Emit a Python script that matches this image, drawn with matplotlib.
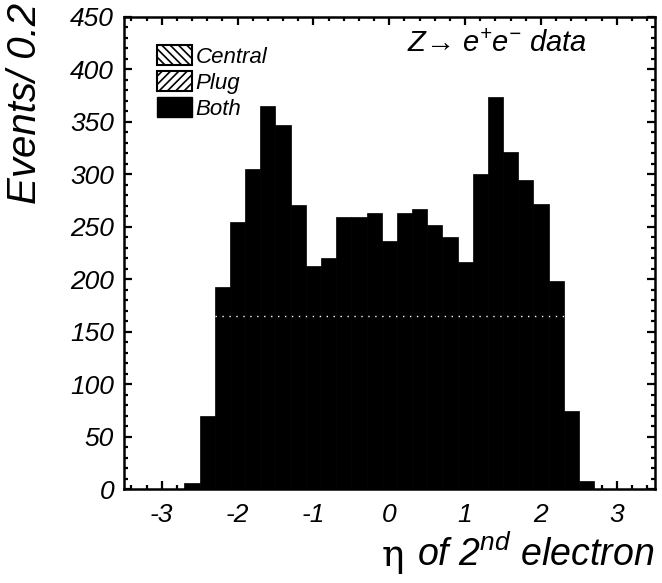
import numpy as np
import matplotlib
matplotlib.use("Agg")
import matplotlib.pyplot as plt
from matplotlib.patches import Patch
from matplotlib.ticker import MultipleLocator

# =========================
# DONNÉES
# =========================
bin_left = -2.7
bin_width = 0.2
counts = [6, 70, 193, 255, 305, 365, 347, 271, 213, 220, 259, 259, 263,
          236, 263, 267, 252, 240, 216, 300, 374, 321, 295, 272, 198, 74, 8]
# trace pointillée blanche visible sur le scan
dotted_level = 165
dotted_range = [-2.3, 2.3]

legend_labels = ["Central", "Plug", "Both"]
legend_hatches = ["\\\\\\\\", "////", None]

# =========================
# STYLE
# =========================
plt.rcParams["font.family"] = ["Liberation Sans", "DejaVu Sans"]
plt.rcParams["font.style"] = "italic"
plt.rcParams["mathtext.fontset"] = "custom"
plt.rcParams["mathtext.rm"] = "Liberation Sans"
plt.rcParams["mathtext.it"] = "Liberation Sans:italic"
plt.rcParams["hatch.linewidth"] = 1.2

fig = plt.figure(figsize=(6.62, 5.83), dpi=100)
ax = fig.add_axes([0.187, 0.161, 0.802, 0.810])

centers = bin_left + bin_width / 2 + bin_width * np.arange(len(counts))
ax.bar(centers, counts, width=bin_width, color="black", edgecolor="black", linewidth=0.5)
ax.hlines(dotted_level, dotted_range[0], dotted_range[1], colors="white",
          linestyles=(0, (1, 4)), linewidth=1.0)

ax.set_xlim(-3.5, 3.5)
ax.set_ylim(0, 450)

ax.xaxis.set_major_locator(MultipleLocator(1))
ax.xaxis.set_minor_locator(MultipleLocator(0.2))
ax.yaxis.set_major_locator(MultipleLocator(50))
ax.yaxis.set_minor_locator(MultipleLocator(10))
ax.tick_params(which="both", direction="in", top=True, right=True, width=1.6)
ax.tick_params(which="major", length=6, labelsize=19)
ax.tick_params(which="minor", length=3)
ax.tick_params(axis="x", pad=10)
ax.tick_params(axis="y", pad=7)
for s in ax.spines.values():
    s.set_linewidth(1.8)

ax.set_xticklabels([f"{int(t)}" for t in ax.get_xticks()])

# Légende
handles = []
for lab, h in zip(legend_labels, legend_hatches):
    if h is None:
        handles.append(Patch(facecolor="black", edgecolor="black", label=lab))
    else:
        handles.append(Patch(facecolor="white", edgecolor="black", hatch=h, linewidth=1.5, label=lab))
ax.legend(handles=handles, loc="upper left", bbox_to_anchor=(0.062, 0.94), frameon=False,
          fontsize=16, handlelength=1.6, handleheight=1.0, handletextpad=0.15,
          labelspacing=0.15, borderpad=0, borderaxespad=0)

ax.text(0.533, 0.943, "Z\u2192 e$^{+}$e$^{-}$ data", transform=ax.transAxes,
        ha="left", va="center", fontsize=21)

# Titres des axes
fig.text(0.038, 0.995, "Events/ 0.2", rotation=90, ha="center", va="top", fontsize=29)
fig.text(0.989, 0.03, "of 2$^{nd}$ electron", ha="right", va="baseline", fontsize=27)
fig.text(0.593, 0.03, "\u03b7", ha="center", va="baseline", fontsize=27,
         family="DejaVu Serif", style="normal")

fig.savefig("out.png", dpi=100)
